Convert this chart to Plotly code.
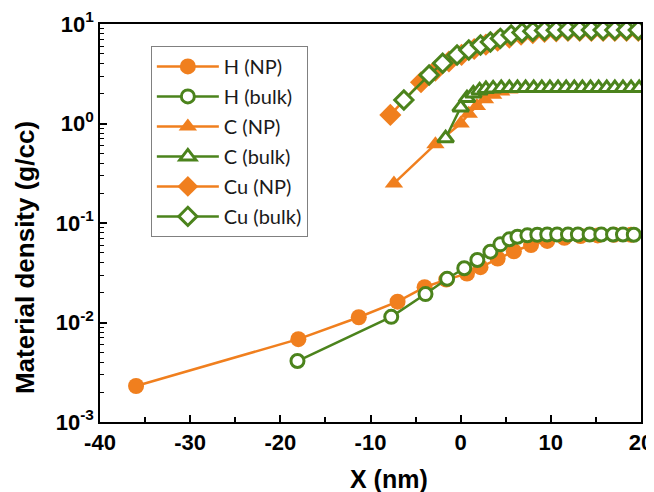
import plotly.graph_objects as go

# ---- data ----
H_NP_x = [-36, -18, -11.3, -7.0, -4.0, -1.6, 0.7, 2.2, 4.1, 5.9, 7.8, 9.6, 11.5, 13.3, 15.2, 17.0, 18.9]
H_NP_y = [0.0023, 0.0068, 0.0113, 0.0162, 0.0226, 0.027, 0.031, 0.036, 0.044, 0.052, 0.060, 0.066,
          0.071, 0.074, 0.075, 0.076, 0.076]

H_bulk_x = [-18.1, -7.7, -3.9, -1.5, 0.4, 1.85, 3.3, 4.4, 5.4, 6.3, 7.4, 8.5, 9.6, 10.7, 11.9, 13.0,
            14.3, 15.6, 16.9, 18.0, 19.2]
H_bulk_y = [0.0041, 0.0114, 0.0193, 0.0275, 0.0351, 0.0425, 0.0515, 0.061, 0.0686, 0.0728, 0.0752,
            0.0762, 0.0765, 0.0765, 0.0765, 0.0765, 0.0765, 0.0765, 0.0765, 0.0765, 0.0762]

C_NP_x = [-7.4, -2.8, 0.0, 0.9, 1.8, 2.7, 3.6, 4.5, 5.4, 6.3, 7.2, 8.1, 9.0, 9.9, 10.8, 11.7, 12.6,
          13.5, 14.4, 15.3, 16.2, 17.1, 18.0, 18.9, 19.8]
C_NP_y = [0.25, 0.62, 1.0, 1.25, 1.5, 1.75, 1.95, 2.1, 2.2, 2.23, 2.25, 2.25, 2.25, 2.25, 2.25, 2.25,
          2.25, 2.25, 2.25, 2.25, 2.25, 2.25, 2.25, 2.25, 2.25]

C_bulk_x = [-1.67, 0.0, 0.7, 1.4, 2.1, 2.8, 3.6, 4.5, 5.4, 6.3, 7.2, 8.1, 9.0, 9.9, 10.8, 11.7, 12.6,
            13.5, 14.4, 15.3, 16.2, 17.1, 18.0, 18.9, 19.8]
C_bulk_y = [0.71, 1.45, 1.8, 2.0, 2.15, 2.22, 2.25, 2.27, 2.27, 2.27, 2.27, 2.27, 2.27, 2.27, 2.27,
            2.27, 2.27, 2.27, 2.27, 2.27, 2.27, 2.27, 2.27, 2.27, 2.27]

Cu_NP_x = [-7.8, -4.4, -2.8, -1.3, 0.1, 1.5, 2.8, 4.1, 5.4, 6.7, 8.0, 9.3, 10.6, 11.9, 13.2, 14.5,
           15.8, 17.1, 18.4, 19.7]
Cu_NP_y = [1.22, 2.6, 3.4, 4.2, 4.9, 5.6, 6.2, 6.8, 7.3, 7.8, 8.1, 8.3, 8.4, 8.5, 8.5, 8.5, 8.5,
           8.5, 8.5, 8.5]

Cu_bulk_x = [-6.3, -3.5, -2.0, -0.4, 0.9, 2.2, 3.3, 4.4, 5.6, 6.8, 8.0, 9.3, 10.6, 11.9, 13.2, 14.5,
             15.8, 17.1, 18.4, 19.7]
Cu_bulk_y = [1.72, 3.07, 4.03, 4.88, 5.48, 6.15, 6.6, 7.17, 7.76, 8.2, 8.45, 8.6, 8.65, 8.7, 8.7,
             8.7, 8.7, 8.7, 8.7, 8.7]

x_tick_vals = [-40, -30, -20, -10, 0, 10, 20]
x_tick_text = ["-40", "-30", "-20", "-10", "0", "10", "20"]
x_minor_vals = [-35, -25, -15, -5, 5, 15]
y_tick_vals = [1e-3, 1e-2, 1e-1, 1e0, 1e1]
y_tick_text = ["10<sup>-3</sup>", "10<sup>-2</sup>", "10<sup>-1</sup>", "10<sup>0</sup>", "10<sup>1</sup>"]

ORANGE = "#F07F1E"
GREEN = "#4B831C"

series = [
    ("H (NP)", H_NP_x, H_NP_y, "circle", ORANGE, ORANGE, 16),
    ("H (bulk)", H_bulk_x, H_bulk_y, "circle", GREEN, "white", 13),
    ("C (NP)", C_NP_x, C_NP_y, "triangle-up", ORANGE, ORANGE, 16),
    ("C (bulk)", C_bulk_x, C_bulk_y, "triangle-up", GREEN, "white", 14),
    ("Cu (NP)", Cu_NP_x, Cu_NP_y, "diamond", ORANGE, ORANGE, 17),
    ("Cu (bulk)", Cu_bulk_x, Cu_bulk_y, "diamond", GREEN, "white", 14),
]

fig = go.Figure()
for i, (name, xs, ys, sym, lc, fc, sz) in enumerate(series):
    fig.add_trace(go.Scatter(
        x=xs, y=ys, name=name, mode="lines+markers", legendgroup=str(i),
        line=dict(color=lc, width=2.5),
        marker=dict(symbol=sym, size=sz, color=fc,
                    line=dict(color=lc, width=3 if fc == "white" else 0)),
    ))

axis_font = dict(family="Liberation Sans, Arial", size=22, color="black", weight="bold")

# the page body adds an 8px margin, so the figure is 8px smaller and offsets shrink by 8
fig.update_layout(
    width=646, height=484,
    margin=dict(l=92, r=13, t=16, b=70, autoexpand=False),
    paper_bgcolor="white", plot_bgcolor="white",
    showlegend=True,
    legend=dict(
        x=0.094, y=0.945, xanchor="left", yanchor="top",
        bgcolor="white", bordercolor="#808080", borderwidth=1,
        font=dict(family="Lato", size=20, color="#1a1a1a"),
        itemwidth=62, tracegroupgap=1,
    ),
    xaxis=dict(
        range=[-40, 20], showgrid=False, zeroline=False, automargin=False,
        showline=True, linecolor="black", linewidth=1.5, mirror=True,
        tickmode="array", tickvals=x_tick_vals, ticktext=x_tick_text,
        ticks="inside", ticklen=7, tickwidth=1.5, tickcolor="black",
        minor=dict(tickvals=x_minor_vals, ticks="inside", ticklen=5, tickwidth=1.5, tickcolor="black"),
        tickfont=axis_font,
    ),
    yaxis=dict(
        type="log", range=[-3, 1], showgrid=False, zeroline=False, automargin=False,
        showline=True, linecolor="black", linewidth=1.5, mirror=True,
        tickmode="array", tickvals=y_tick_vals, ticktext=y_tick_text,
        ticks="inside", ticklen=7, tickwidth=1.5, tickcolor="black",
        minor=dict(tickvals=[m * 10 ** e for e in range(-3, 1) for m in range(2, 10)],
                   ticks="inside", ticklen=4, tickwidth=1, tickcolor="black"),
        tickfont=axis_font,
    ),
    annotations=[
        dict(text="<b>X (nm)</b>", xref="paper", yref="paper", x=0.534, y=-0.143,
             xanchor="center", yanchor="middle", showarrow=False,
             font=dict(family="Liberation Sans, Arial", size=25, color="black")),
        dict(text="<b>Material density (g/cc)</b>", xref="paper", yref="paper", x=-0.1386, y=0.412,
             xanchor="center", yanchor="middle", showarrow=False, textangle=-90,
             font=dict(family="Liberation Sans, Arial", size=26, color="black")),
    ],
)

fig.write_html("out.html")
